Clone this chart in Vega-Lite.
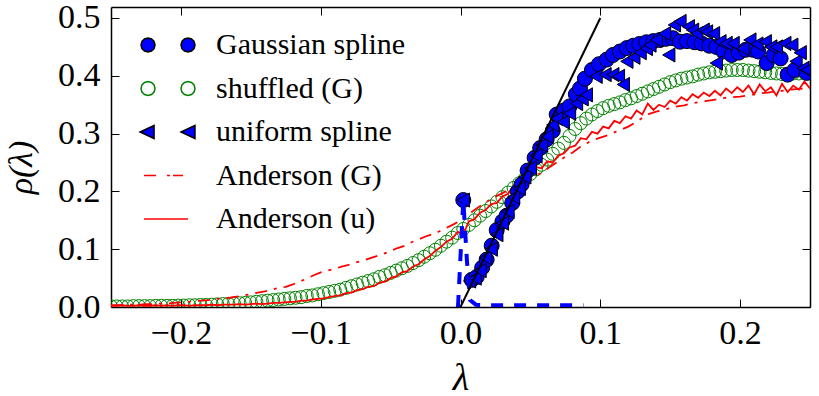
{
  "$schema": "https://vega.github.io/schema/vega-lite/v6.json",
  "autosize": "none",
  "width": 699,
  "height": 300,
  "padding": {"left": 111, "top": 7, "right": 9, "bottom": 89},
  "background": "white",
  "datasets": {
    "series": [
      {"s":"Gaussian spline"},{"s":"shuffled (G)"},{"s":"uniform spline"},{"s":"Anderson (G)"},{"s":"Anderson (u)"}
    ],
    "shuffled": [
      {"lam":-0.250,"rho":0.001},{"lam":-0.246,"rho":0.001},{"lam":-0.242,"rho":0.001},{"lam":-0.238,"rho":0.001},
      {"lam":-0.234,"rho":0.0015},{"lam":-0.230,"rho":0.0015},{"lam":-0.226,"rho":0.0015},{"lam":-0.222,"rho":0.0015},
      {"lam":-0.218,"rho":0.002},{"lam":-0.214,"rho":0.002},{"lam":-0.210,"rho":0.002},{"lam":-0.206,"rho":0.002},
      {"lam":-0.202,"rho":0.0025},{"lam":-0.198,"rho":0.0025},{"lam":-0.194,"rho":0.003},{"lam":-0.190,"rho":0.003},
      {"lam":-0.186,"rho":0.0035},{"lam":-0.182,"rho":0.0035},{"lam":-0.178,"rho":0.004},{"lam":-0.174,"rho":0.0045},
      {"lam":-0.170,"rho":0.005},{"lam":-0.166,"rho":0.0055},{"lam":-0.162,"rho":0.006},{"lam":-0.158,"rho":0.0065},
      {"lam":-0.154,"rho":0.007},{"lam":-0.150,"rho":0.008},{"lam":-0.146,"rho":0.009},{"lam":-0.142,"rho":0.010},
      {"lam":-0.138,"rho":0.011},{"lam":-0.134,"rho":0.012},{"lam":-0.130,"rho":0.013},{"lam":-0.126,"rho":0.014},
      {"lam":-0.122,"rho":0.015},{"lam":-0.118,"rho":0.016},{"lam":-0.114,"rho":0.017},{"lam":-0.110,"rho":0.019},
      {"lam":-0.106,"rho":0.020},{"lam":-0.102,"rho":0.022},{"lam":-0.098,"rho":0.024},{"lam":-0.094,"rho":0.026},
      {"lam":-0.090,"rho":0.028},{"lam":-0.086,"rho":0.030},{"lam":-0.082,"rho":0.033},{"lam":-0.078,"rho":0.036},
      {"lam":-0.074,"rho":0.039},{"lam":-0.070,"rho":0.042},{"lam":-0.066,"rho":0.045},{"lam":-0.062,"rho":0.048},
      {"lam":-0.058,"rho":0.052},{"lam":-0.054,"rho":0.055},{"lam":-0.050,"rho":0.059},{"lam":-0.046,"rho":0.063},
      {"lam":-0.042,"rho":0.067},{"lam":-0.038,"rho":0.071},{"lam":-0.034,"rho":0.076},{"lam":-0.030,"rho":0.081},
      {"lam":-0.026,"rho":0.087},{"lam":-0.022,"rho":0.093},{"lam":-0.018,"rho":0.099},{"lam":-0.014,"rho":0.106},
      {"lam":-0.010,"rho":0.113},{"lam":-0.006,"rho":0.120},{"lam":-0.002,"rho":0.128},{"lam":0.002,"rho":0.135},
      {"lam":0.006,"rho":0.142},{"lam":0.010,"rho":0.150},{"lam":0.014,"rho":0.158},{"lam":0.018,"rho":0.166},
      {"lam":0.022,"rho":0.174},{"lam":0.026,"rho":0.182},{"lam":0.030,"rho":0.190},{"lam":0.034,"rho":0.198},
      {"lam":0.038,"rho":0.206},{"lam":0.042,"rho":0.214},{"lam":0.046,"rho":0.222},{"lam":0.050,"rho":0.230},
      {"lam":0.054,"rho":0.238},{"lam":0.058,"rho":0.246},{"lam":0.062,"rho":0.255},{"lam":0.066,"rho":0.265},
      {"lam":0.070,"rho":0.274},{"lam":0.074,"rho":0.284},{"lam":0.078,"rho":0.296},{"lam":0.082,"rho":0.308},
      {"lam":0.086,"rho":0.318},{"lam":0.090,"rho":0.326},{"lam":0.094,"rho":0.333},{"lam":0.098,"rho":0.339},
      {"lam":0.102,"rho":0.344},{"lam":0.106,"rho":0.348},{"lam":0.110,"rho":0.351},{"lam":0.114,"rho":0.354},
      {"lam":0.118,"rho":0.358},{"lam":0.122,"rho":0.361},{"lam":0.126,"rho":0.365},{"lam":0.130,"rho":0.369},
      {"lam":0.134,"rho":0.373},{"lam":0.138,"rho":0.377},{"lam":0.142,"rho":0.381},{"lam":0.146,"rho":0.385},
      {"lam":0.150,"rho":0.389},{"lam":0.154,"rho":0.392},{"lam":0.158,"rho":0.395},{"lam":0.162,"rho":0.397},
      {"lam":0.166,"rho":0.399},{"lam":0.170,"rho":0.402},{"lam":0.174,"rho":0.404},{"lam":0.178,"rho":0.406},
      {"lam":0.182,"rho":0.407},{"lam":0.186,"rho":0.408},{"lam":0.190,"rho":0.409},{"lam":0.194,"rho":0.410},
      {"lam":0.198,"rho":0.410},{"lam":0.202,"rho":0.410},{"lam":0.206,"rho":0.409},{"lam":0.210,"rho":0.408},
      {"lam":0.214,"rho":0.407},{"lam":0.218,"rho":0.406},{"lam":0.222,"rho":0.405},{"lam":0.226,"rho":0.404},
      {"lam":0.230,"rho":0.403},{"lam":0.234,"rho":0.403},{"lam":0.238,"rho":0.404},{"lam":0.242,"rho":0.404},
      {"lam":0.246,"rho":0.405},{"lam":0.250,"rho":0.405}
    ],
    "andersonG": [
      {"lam":-0.250,"rho":0.003},{"lam":-0.245,"rho":0.003},{"lam":-0.240,"rho":0.004},{"lam":-0.235,"rho":0.004},
      {"lam":-0.230,"rho":0.004},{"lam":-0.225,"rho":0.005},{"lam":-0.220,"rho":0.005},{"lam":-0.215,"rho":0.006},
      {"lam":-0.210,"rho":0.006},{"lam":-0.205,"rho":0.007},{"lam":-0.200,"rho":0.008},{"lam":-0.195,"rho":0.009},
      {"lam":-0.190,"rho":0.010},{"lam":-0.185,"rho":0.011},{"lam":-0.180,"rho":0.012},{"lam":-0.175,"rho":0.014},
      {"lam":-0.170,"rho":0.015},{"lam":-0.165,"rho":0.016},{"lam":-0.160,"rho":0.018},{"lam":-0.155,"rho":0.020},
      {"lam":-0.150,"rho":0.022},{"lam":-0.145,"rho":0.025},{"lam":-0.140,"rho":0.027},{"lam":-0.135,"rho":0.030},
      {"lam":-0.130,"rho":0.033},{"lam":-0.125,"rho":0.035},{"lam":-0.120,"rho":0.039},{"lam":-0.115,"rho":0.044},
      {"lam":-0.110,"rho":0.049},{"lam":-0.105,"rho":0.055},{"lam":-0.100,"rho":0.060},{"lam":-0.095,"rho":0.063},
      {"lam":-0.090,"rho":0.066},{"lam":-0.085,"rho":0.070},{"lam":-0.080,"rho":0.073},{"lam":-0.075,"rho":0.077},
      {"lam":-0.070,"rho":0.080},{"lam":-0.065,"rho":0.084},{"lam":-0.060,"rho":0.088},{"lam":-0.055,"rho":0.092},
      {"lam":-0.050,"rho":0.097},{"lam":-0.045,"rho":0.102},{"lam":-0.040,"rho":0.106},{"lam":-0.035,"rho":0.112},
      {"lam":-0.030,"rho":0.117},{"lam":-0.025,"rho":0.122},{"lam":-0.020,"rho":0.126},{"lam":-0.015,"rho":0.131},
      {"lam":-0.010,"rho":0.137},{"lam":-0.005,"rho":0.143},{"lam":0.000,"rho":0.150},{"lam":0.005,"rho":0.158},
      {"lam":0.010,"rho":0.168},{"lam":0.015,"rho":0.176},{"lam":0.020,"rho":0.184},{"lam":0.025,"rho":0.191},
      {"lam":0.030,"rho":0.197},{"lam":0.035,"rho":0.203},{"lam":0.040,"rho":0.209},{"lam":0.045,"rho":0.215},
      {"lam":0.050,"rho":0.221},{"lam":0.055,"rho":0.228},{"lam":0.060,"rho":0.236},{"lam":0.065,"rho":0.244},
      {"lam":0.070,"rho":0.252},{"lam":0.075,"rho":0.260},{"lam":0.080,"rho":0.267},{"lam":0.085,"rho":0.276},
      {"lam":0.090,"rho":0.283},{"lam":0.095,"rho":0.289},{"lam":0.100,"rho":0.293},{"lam":0.105,"rho":0.297},
      {"lam":0.110,"rho":0.302},{"lam":0.115,"rho":0.307},{"lam":0.120,"rho":0.312},{"lam":0.125,"rho":0.319},
      {"lam":0.130,"rho":0.327},{"lam":0.135,"rho":0.334},{"lam":0.140,"rho":0.338},{"lam":0.145,"rho":0.341},
      {"lam":0.150,"rho":0.344},{"lam":0.155,"rho":0.347},{"lam":0.160,"rho":0.349},{"lam":0.165,"rho":0.352},
      {"lam":0.170,"rho":0.354},{"lam":0.175,"rho":0.356},{"lam":0.180,"rho":0.358},{"lam":0.185,"rho":0.360},
      {"lam":0.190,"rho":0.362},{"lam":0.195,"rho":0.363},{"lam":0.200,"rho":0.364},{"lam":0.205,"rho":0.366},
      {"lam":0.210,"rho":0.368},{"lam":0.215,"rho":0.370},{"lam":0.220,"rho":0.371},{"lam":0.225,"rho":0.373},
      {"lam":0.230,"rho":0.374},{"lam":0.235,"rho":0.376},{"lam":0.240,"rho":0.377},{"lam":0.245,"rho":0.378},
      {"lam":0.250,"rho":0.379}
    ],
    "andersonU": [
      {"lam":-0.250,"rho":0.002},{"lam":-0.246,"rho":0.002},{"lam":-0.242,"rho":0.003},{"lam":-0.238,"rho":0.002},
      {"lam":-0.234,"rho":0.002},{"lam":-0.230,"rho":0.003},{"lam":-0.226,"rho":0.002},{"lam":-0.222,"rho":0.002},
      {"lam":-0.218,"rho":0.003},{"lam":-0.214,"rho":0.002},{"lam":-0.210,"rho":0.003},{"lam":-0.206,"rho":0.002},
      {"lam":-0.202,"rho":0.003},{"lam":-0.198,"rho":0.003},{"lam":-0.194,"rho":0.002},{"lam":-0.190,"rho":0.003},
      {"lam":-0.186,"rho":0.003},{"lam":-0.182,"rho":0.003},{"lam":-0.178,"rho":0.004},{"lam":-0.174,"rho":0.003},
      {"lam":-0.170,"rho":0.004},{"lam":-0.166,"rho":0.004},{"lam":-0.162,"rho":0.004},{"lam":-0.158,"rho":0.005},
      {"lam":-0.154,"rho":0.004},{"lam":-0.150,"rho":0.005},{"lam":-0.146,"rho":0.006},{"lam":-0.142,"rho":0.005},
      {"lam":-0.138,"rho":0.006},{"lam":-0.134,"rho":0.007},{"lam":-0.130,"rho":0.007},{"lam":-0.126,"rho":0.008},
      {"lam":-0.122,"rho":0.009},{"lam":-0.118,"rho":0.009},{"lam":-0.114,"rho":0.011},{"lam":-0.110,"rho":0.011},
      {"lam":-0.106,"rho":0.013},{"lam":-0.102,"rho":0.014},{"lam":-0.098,"rho":0.015},{"lam":-0.094,"rho":0.017},
      {"lam":-0.090,"rho":0.019},{"lam":-0.086,"rho":0.020},{"lam":-0.082,"rho":0.024},{"lam":-0.078,"rho":0.025},
      {"lam":-0.074,"rho":0.029},{"lam":-0.070,"rho":0.031},{"lam":-0.066,"rho":0.035},{"lam":-0.062,"rho":0.036},
      {"lam":-0.058,"rho":0.042},{"lam":-0.054,"rho":0.044},{"lam":-0.050,"rho":0.050},{"lam":-0.046,"rho":0.053},
      {"lam":-0.042,"rho":0.060},{"lam":-0.038,"rho":0.062},{"lam":-0.034,"rho":0.070},{"lam":-0.030,"rho":0.074},
      {"lam":-0.026,"rho":0.082},{"lam":-0.022,"rho":0.088},{"lam":-0.018,"rho":0.097},{"lam":-0.014,"rho":0.104},
      {"lam":-0.010,"rho":0.113},{"lam":-0.006,"rho":0.118},{"lam":-0.002,"rho":0.130},{"lam":0.002,"rho":0.126},
      {"lam":0.006,"rho":0.148},{"lam":0.010,"rho":0.152},{"lam":0.014,"rho":0.163},{"lam":0.018,"rho":0.168},
      {"lam":0.022,"rho":0.178},{"lam":0.026,"rho":0.180},{"lam":0.030,"rho":0.191},{"lam":0.034,"rho":0.196},
      {"lam":0.038,"rho":0.210},{"lam":0.042,"rho":0.212},{"lam":0.046,"rho":0.226},{"lam":0.050,"rho":0.228},
      {"lam":0.054,"rho":0.242},{"lam":0.058,"rho":0.240},{"lam":0.062,"rho":0.252},{"lam":0.066,"rho":0.250},
      {"lam":0.070,"rho":0.262},{"lam":0.074,"rho":0.266},{"lam":0.078,"rho":0.276},{"lam":0.082,"rho":0.279},
      {"lam":0.086,"rho":0.292},{"lam":0.090,"rho":0.290},{"lam":0.094,"rho":0.303},{"lam":0.098,"rho":0.300},
      {"lam":0.102,"rho":0.312},{"lam":0.106,"rho":0.309},{"lam":0.110,"rho":0.322},{"lam":0.114,"rho":0.318},
      {"lam":0.118,"rho":0.330},{"lam":0.122,"rho":0.326},{"lam":0.126,"rho":0.340},{"lam":0.130,"rho":0.333},
      {"lam":0.134,"rho":0.352},{"lam":0.138,"rho":0.341},{"lam":0.142,"rho":0.350},{"lam":0.146,"rho":0.346},
      {"lam":0.150,"rho":0.357},{"lam":0.154,"rho":0.352},{"lam":0.158,"rho":0.363},{"lam":0.162,"rho":0.357},
      {"lam":0.166,"rho":0.368},{"lam":0.170,"rho":0.362},{"lam":0.174,"rho":0.371},{"lam":0.178,"rho":0.365},
      {"lam":0.182,"rho":0.374},{"lam":0.186,"rho":0.366},{"lam":0.190,"rho":0.378},{"lam":0.194,"rho":0.370},
      {"lam":0.198,"rho":0.380},{"lam":0.202,"rho":0.372},{"lam":0.206,"rho":0.383},{"lam":0.210,"rho":0.368},
      {"lam":0.214,"rho":0.385},{"lam":0.218,"rho":0.373},{"lam":0.222,"rho":0.380},{"lam":0.226,"rho":0.366},
      {"lam":0.230,"rho":0.386},{"lam":0.234,"rho":0.372},{"lam":0.238,"rho":0.383},{"lam":0.242,"rho":0.376},
      {"lam":0.246,"rho":0.390},{"lam":0.250,"rho":0.378}
    ],
    "gaussian": [
      {"lam":0.002,"rho":0.185},{"lam":0.008,"rho":0.047},{"lam":0.0116,"rho":0.052},{"lam":0.0155,"rho":0.068},
      {"lam":0.0187,"rho":0.082},{"lam":0.0223,"rho":0.106},{"lam":0.0259,"rho":0.133},{"lam":0.030,"rho":0.148},
      {"lam":0.033,"rho":0.158},{"lam":0.037,"rho":0.180},{"lam":0.041,"rho":0.200},{"lam":0.0437,"rho":0.212},
      {"lam":0.048,"rho":0.236},{"lam":0.053,"rho":0.258},{"lam":0.057,"rho":0.275},{"lam":0.0616,"rho":0.290},
      {"lam":0.066,"rho":0.305},{"lam":0.0688,"rho":0.333},{"lam":0.074,"rho":0.340},{"lam":0.078,"rho":0.347},
      {"lam":0.0825,"rho":0.368},{"lam":0.0855,"rho":0.378},{"lam":0.089,"rho":0.395},{"lam":0.094,"rho":0.410},
      {"lam":0.099,"rho":0.420},{"lam":0.1046,"rho":0.428},{"lam":0.109,"rho":0.436},{"lam":0.114,"rho":0.442},
      {"lam":0.119,"rho":0.448},{"lam":0.1236,"rho":0.452},{"lam":0.128,"rho":0.455},{"lam":0.133,"rho":0.458},
      {"lam":0.138,"rho":0.460},{"lam":0.1427,"rho":0.462},{"lam":0.147,"rho":0.464},{"lam":0.152,"rho":0.465},
      {"lam":0.157,"rho":0.459},{"lam":0.162,"rho":0.460},{"lam":0.1675,"rho":0.458},{"lam":0.1725,"rho":0.456},
      {"lam":0.178,"rho":0.452},{"lam":0.183,"rho":0.450},{"lam":0.188,"rho":0.442},{"lam":0.194,"rho":0.436},
      {"lam":0.199,"rho":0.440},{"lam":0.204,"rho":0.445},{"lam":0.209,"rho":0.445},{"lam":0.213,"rho":0.442},
      {"lam":0.219,"rho":0.422},{"lam":0.224,"rho":0.436},{"lam":0.229,"rho":0.430},{"lam":0.234,"rho":0.402},
      {"lam":0.239,"rho":0.410},{"lam":0.2476,"rho":0.405}
    ],
    "uniform": [
      {"lam":0.002,"rho":0.185},{"lam":0.0065,"rho":0.045},{"lam":0.0105,"rho":0.050},{"lam":0.014,"rho":0.063},
      {"lam":0.018,"rho":0.085},{"lam":0.022,"rho":0.100},{"lam":0.026,"rho":0.125},{"lam":0.030,"rho":0.145},
      {"lam":0.034,"rho":0.165},{"lam":0.038,"rho":0.190},{"lam":0.042,"rho":0.205},{"lam":0.046,"rho":0.225},
      {"lam":0.050,"rho":0.240},{"lam":0.054,"rho":0.262},{"lam":0.058,"rho":0.280},{"lam":0.062,"rho":0.295},
      {"lam":0.066,"rho":0.315},{"lam":0.0688,"rho":0.326},{"lam":0.0735,"rho":0.320},{"lam":0.078,"rho":0.335},
      {"lam":0.083,"rho":0.352},{"lam":0.087,"rho":0.360},{"lam":0.090,"rho":0.367},{"lam":0.097,"rho":0.399},
      {"lam":0.1034,"rho":0.402},{"lam":0.109,"rho":0.402},{"lam":0.113,"rho":0.399},{"lam":0.1165,"rho":0.385},
      {"lam":0.119,"rho":0.425},{"lam":0.124,"rho":0.432},{"lam":0.1285,"rho":0.440},{"lam":0.133,"rho":0.447},
      {"lam":0.1355,"rho":0.453},{"lam":0.140,"rho":0.462},{"lam":0.146,"rho":0.473},{"lam":0.149,"rho":0.436},
      {"lam":0.153,"rho":0.488},{"lam":0.157,"rho":0.494},{"lam":0.163,"rho":0.485},{"lam":0.166,"rho":0.479},
      {"lam":0.169,"rho":0.473},{"lam":0.1736,"rho":0.479},{"lam":0.176,"rho":0.476},{"lam":0.181,"rho":0.473},
      {"lam":0.183,"rho":0.422},{"lam":0.1856,"rho":0.459},{"lam":0.190,"rho":0.456},{"lam":0.195,"rho":0.456},
      {"lam":0.202,"rho":0.447},{"lam":0.207,"rho":0.462},{"lam":0.212,"rho":0.455},{"lam":0.218,"rho":0.459},
      {"lam":0.222,"rho":0.450},{"lam":0.226,"rho":0.450},{"lam":0.232,"rho":0.456},{"lam":0.237,"rho":0.453},
      {"lam":0.240,"rho":0.425},{"lam":0.243,"rho":0.440},{"lam":0.245,"rho":0.413},{"lam":0.248,"rho":0.410}
    ],
    "spike": [
      {"lam":-0.0018,"rho":0.0},{"lam":0.002,"rho":0.185},{"lam":0.0046,"rho":0.08},{"lam":0.0068,"rho":0.012},
      {"lam":0.011,"rho":0.004},{"lam":0.02,"rho":0.003},{"lam":0.04,"rho":0.003},{"lam":0.06,"rho":0.003},{"lam":0.088,"rho":0.003}
    ],
    "fit": [
      {"lam":0.0,"rho":0.0},{"lam":0.1,"rho":0.5}
    ]
  },
  "layer": [
    {
      "data": {"name": "shuffled"},
      "mark": {"type": "point", "shape": "circle", "filled": false, "stroke": "#008000", "size": 169, "strokeWidth": 1, "opacity": 1, "clip": true},
      "encoding": {
        "x": {
          "field": "lam", "type": "quantitative",
          "scale": {"domain": [-0.25, 0.25], "nice": false, "zero": false},
          "axis": {"orient": "bottom", "values": [-0.2, -0.1, 0, 0.1, 0.2], "format": ".1f", "labelPadding": 17, "title": "λ", "titleFontSize": 38, "titleFontStyle": "italic", "titlePadding": 9}
        },
        "y": {
          "field": "rho", "type": "quantitative",
          "scale": {"domain": [0, 0.519], "nice": false, "zero": false},
          "axis": {"orient": "left", "values": [0, 0.1, 0.2, 0.3, 0.4, 0.5], "format": ".1f", "labelPadding": 19, "title": "ρ(λ)", "titleFontSize": 34, "titleFontStyle": "italic", "titleX": -90, "titleY": 160, "titleBaseline": "middle", "titleAngle": -90}
        }
      }
    },
    {
      "data": {"name": "andersonG"},
      "mark": {"type": "line", "stroke": "#ff0000", "strokeWidth": 1.8, "strokeDash": [12, 7, 3, 7], "clip": true},
      "encoding": {
        "x": {"field": "lam", "type": "quantitative", "axis": null},
        "y": {"field": "rho", "type": "quantitative", "axis": null}
      }
    },
    {
      "data": {"name": "andersonU"},
      "mark": {"type": "line", "stroke": "#ff0000", "strokeWidth": 1.8, "clip": true},
      "encoding": {
        "x": {"field": "lam", "type": "quantitative", "axis": null},
        "y": {"field": "rho", "type": "quantitative", "axis": null}
      }
    },
    {
      "data": {"name": "gaussian"},
      "mark": {"type": "point", "shape": "circle", "filled": true, "fill": "#0000ff", "stroke": "black", "size": 225, "strokeWidth": 1, "opacity": 1, "clip": true},
      "encoding": {
        "x": {"field": "lam", "type": "quantitative", "axis": null},
        "y": {"field": "rho", "type": "quantitative", "axis": null}
      }
    },
    {
      "data": {"name": "uniform"},
      "mark": {"type": "point", "shape": "triangle-left", "filled": true, "fill": "#0000ff", "stroke": "black", "size": 200, "strokeWidth": 1, "opacity": 1, "clip": true},
      "encoding": {
        "x": {"field": "lam", "type": "quantitative", "axis": null},
        "y": {"field": "rho", "type": "quantitative", "axis": null}
      }
    },
    {
      "data": {"name": "spike"},
      "mark": {"type": "line", "stroke": "#0000ff", "strokeWidth": 4, "strokeDash": [12, 11], "clip": true},
      "encoding": {
        "x": {"field": "lam", "type": "quantitative", "axis": null},
        "y": {"field": "rho", "type": "quantitative", "axis": null}
      }
    },
    {
      "data": {"name": "fit"},
      "mark": {"type": "line", "stroke": "black", "strokeWidth": 2, "clip": true},
      "encoding": {
        "x": {"field": "lam", "type": "quantitative", "axis": {"orient": "top", "values": [-0.2, -0.1, 0, 0.1, 0.2], "labels": false, "title": null}},
        "y": {"field": "rho", "type": "quantitative", "axis": {"orient": "right", "values": [0, 0.1, 0.2, 0.3, 0.4, 0.5], "labels": false, "title": null}}
      }
    },
    {
      "data": {"name": "series"},
      "mark": {"type": "point", "filled": true, "opacity": 0, "size": 1},
      "encoding": {
        "shape": {
          "field": "s", "type": "nominal",
          "scale": {
            "domain": ["Gaussian spline", "shuffled (G)", "uniform spline", "Anderson (G)", "Anderson (u)"],
            "range": [
              "M-0.419,0L-0.449,0.113L-0.532,0.196L-0.645,0.226L-0.758,0.196L-0.841,0.113L-0.871,0L-0.841,-0.113L-0.758,-0.196L-0.645,-0.226L-0.532,-0.196L-0.449,-0.113ZM0.871,0L0.841,0.113L0.758,0.196L0.645,0.226L0.532,0.196L0.449,0.113L0.419,0L0.449,-0.113L0.532,-0.196L0.645,-0.226L0.758,-0.196L0.841,-0.113Z",
              "M-0.419,0L-0.449,0.113L-0.532,0.196L-0.645,0.226L-0.758,0.196L-0.841,0.113L-0.871,0L-0.841,-0.113L-0.758,-0.196L-0.645,-0.226L-0.532,-0.196L-0.449,-0.113ZM0.871,0L0.841,0.113L0.758,0.196L0.645,0.226L0.532,0.196L0.449,0.113L0.419,0L0.449,-0.113L0.532,-0.196L0.645,-0.226L0.758,-0.196L0.841,-0.113Z",
              "M-0.9,0L-0.45,-0.21L-0.45,0.21ZM0.42,0L0.87,-0.21L0.87,0.21Z",
              "M-0.774,0L-0.387,0M-0.032,0L0.065,0M0.161,0L0.484,0",
              "M-0.774,0L0.645,0"
            ]
          },
          "legend": {
            "title": null, "orient": "none", "legendX": 25, "legendY": 18, "padding": 0,
            "direction": "vertical", "symbolSize": 3844, "clipHeight": 40, "rowPadding": 3.5,
            "symbolOpacity": 1, "symbolStrokeWidth": 1.5,
            "labelOffset": 16, "labelFont": "Liberation Serif", "labelFontSize": 30, "labelColor": "black", "labelLimit": 400
          }
        },
        "fill": {
          "field": "s", "type": "nominal",
          "scale": {
            "domain": ["Gaussian spline", "shuffled (G)", "uniform spline", "Anderson (G)", "Anderson (u)"],
            "range": ["#0000ff", "transparent", "#0000ff", "transparent", "transparent"]
          },
          "legend": {
            "title": null, "orient": "none", "legendX": 25, "legendY": 18, "padding": 0,
            "direction": "vertical", "symbolSize": 3844, "clipHeight": 40, "rowPadding": 3.5,
            "symbolOpacity": 1, "symbolStrokeWidth": 1.5,
            "labelOffset": 16, "labelFont": "Liberation Serif", "labelFontSize": 30, "labelColor": "black", "labelLimit": 400
          }
        },
        "stroke": {
          "field": "s", "type": "nominal",
          "scale": {
            "domain": ["Gaussian spline", "shuffled (G)", "uniform spline", "Anderson (G)", "Anderson (u)"],
            "range": ["black", "#008000", "black", "#ff0000", "#ff0000"]
          },
          "legend": {
            "title": null, "orient": "none", "legendX": 25, "legendY": 18, "padding": 0,
            "direction": "vertical", "symbolSize": 3844, "clipHeight": 40, "rowPadding": 3.5,
            "symbolOpacity": 1, "symbolStrokeWidth": 1.5,
            "labelOffset": 16, "labelFont": "Liberation Serif", "labelFontSize": 30, "labelColor": "black", "labelLimit": 400
          }
        }
      }
    }
  ],
  "resolve": {"axis": {"x": "independent", "y": "independent"}},
  "config": {
    "font": "Liberation Serif",
    "view": {"stroke": null},
    "axis": {
      "grid": false,
      "domainColor": "black",
      "domainWidth": 1.5,
      "tickColor": "black",
      "tickWidth": 1,
      "tickSize": -8,
      "labelFont": "Liberation Serif",
      "labelFontSize": 34,
      "labelColor": "black",
      "titleFont": "Liberation Serif",
      "titleFontWeight": "normal",
      "titleColor": "black"
    }
  }
}
